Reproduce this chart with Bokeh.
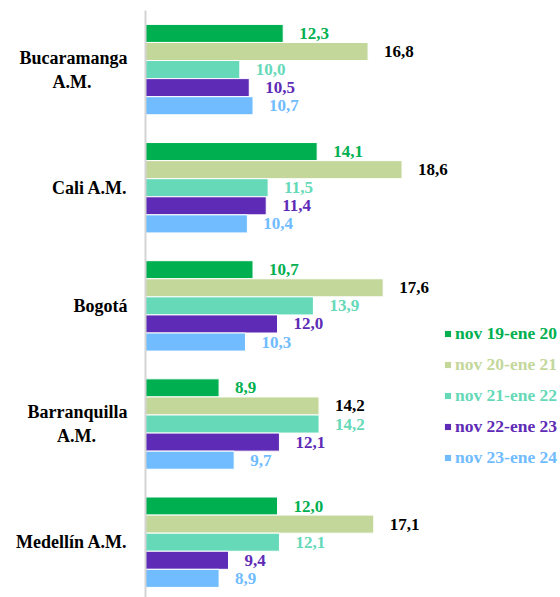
from bokeh.plotting import figure
from bokeh.models import ColumnDataSource, Range1d, FixedTicker, Legend, LegendItem
from bokeh.core.properties import value
from bokeh.embed import file_html
from bokeh.resources import INLINE

NB = "\u00a0"
categories = ["Bucaramanga\nA.M." + NB * 8, "Cali A.M.", "Bogotá",
              "Barranquilla\nA.M." + NB * 7, "Medellín A.M."]
series = ["nov 19-ene 20", "nov 20-ene 21", "nov 21-ene 22", "nov 22-ene 23", "nov 23-ene 24"]
s1 = [12.3, 14.1, 10.7, 8.9, 12.0]
s2 = [16.8, 18.6, 17.6, 14.2, 17.1]
s3 = [10.0, 11.5, 13.9, 14.2, 12.1]
s4 = [10.5, 11.4, 12.0, 12.1, 9.4]
s5 = [10.7, 10.4, 10.3, 9.7, 8.9]
values = [s1, s2, s3, s4, s5]

bar_colors = ["#00B050", "#C4D79B", "#66D9B8", "#5E2BB6", "#70BCFF"]
label_colors = ["#00B050", "#000000", "#66D9B8", "#5E2BB6", "#70BCFF"]

X_START = 5.0
X_END = 27.0
BAR_H = 0.153

FONT = value("Liberation Serif")

p = figure(width=560, height=597, output_backend="svg", toolbar_location=None,
           x_range=Range1d(X_START, X_END), y_range=Range1d(4.468, -0.5),
           min_border_left=145, min_border_right=0, min_border_top=10, min_border_bottom=0)
p.outline_line_color = None
p.xaxis.visible = False
p.xgrid.visible = False
p.ygrid.visible = False

yax = p.yaxis[0]
yax.ticker = FixedTicker(ticks=list(range(len(categories))))
yax.major_label_overrides = {i: c for i, c in enumerate(categories)}
yax.major_label_text_font = "Liberation Serif"
yax.major_label_text_font_style = "bold"
yax.major_label_text_font_size = "18px"
yax.major_label_text_color = "#000000"
yax.major_label_standoff = 12
yax.axis_line_color = "#D4D4D4"
yax.axis_line_width = 2
yax.major_tick_line_color = None
yax.minor_tick_line_color = None

renderers = []
for j, (name, vals) in enumerate(zip(series, values)):
    ys = [i + (j - 2) * BAR_H for i in range(len(categories))]
    src = ColumnDataSource(dict(
        y=ys, v=vals, left=[X_START] * len(vals),
        lab=[f"{v:.1f}".replace(".", ",") for v in vals]))
    r = p.hbar(y="y", left="left", right="v", height=BAR_H, source=src,
               fill_color=bar_colors[j], line_color="white", line_width=1)
    p.text(x="v", y="y", text="lab", source=src, x_offset=16,
           text_align="left", text_baseline="middle",
           text_font=FONT, text_font_style="bold", text_font_size="17px",
           text_color=label_colors[j])
    renderers.append(r)

for j, (name, r) in enumerate(zip(series, renderers)):
    leg = Legend(items=[LegendItem(label=name, renderers=[r])],
                 location=(298, 253 - 31 * j),
                 glyph_width=9, glyph_height=9, label_standoff=3,
                 padding=0, margin=0, spacing=0,
                 border_line_color=None, background_fill_alpha=0,
                 label_text_font="Liberation Serif", label_text_font_style="bold",
                 label_text_font_size="17.5px", label_text_color=bar_colors[j])
    p.add_layout(leg, "center")

open("out.html", "w").write(file_html(p, INLINE))
